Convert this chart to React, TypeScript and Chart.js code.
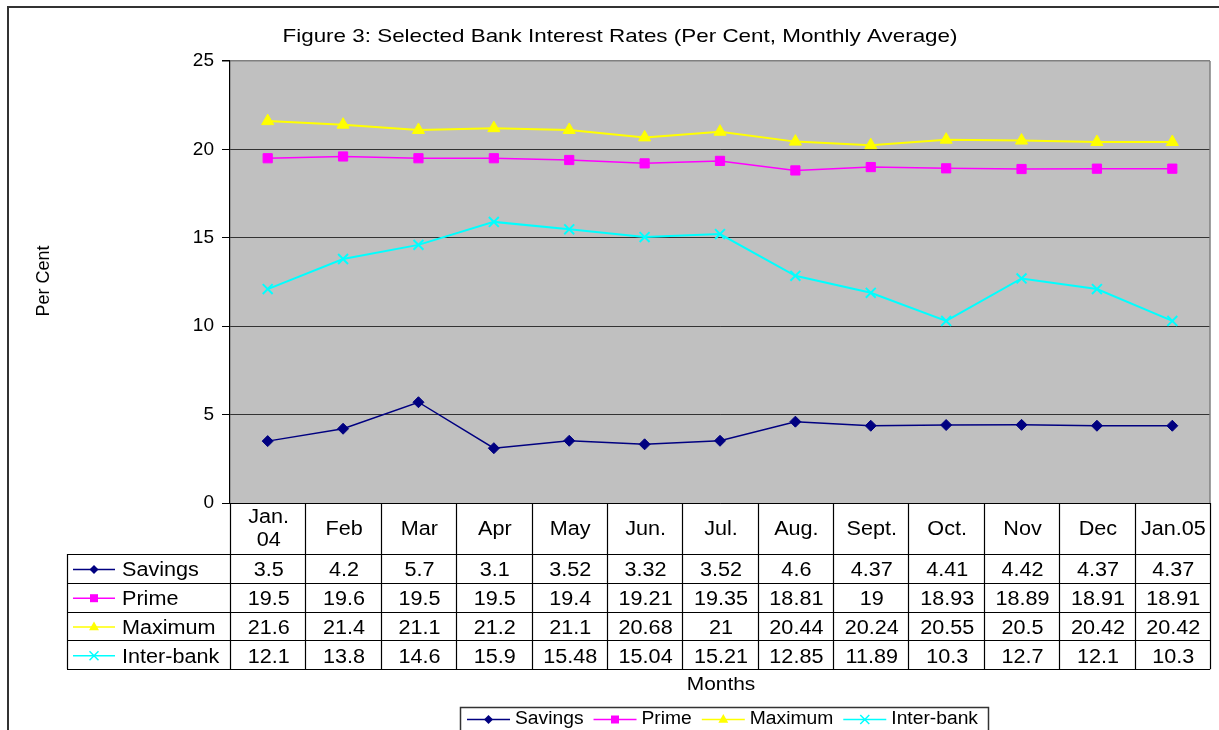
import React, { useEffect, useRef } from "react";
import { Chart, registerables } from "chart.js";
Chart.register(...registerables);

const months = ["Jan.\n04", "Feb", "Mar", "Apr", "May", "Jun.", "Jul.", "Aug.", "Sept.", "Oct.", "Nov", "Dec", "Jan.05"];
const savings = [3.5, 4.2, 5.7, 3.1, 3.52, 3.32, 3.52, 4.6, 4.37, 4.41, 4.42, 4.37, 4.37];
const prime = [19.5, 19.6, 19.5, 19.5, 19.4, 19.21, 19.35, 18.81, 19, 18.93, 18.89, 18.91, 18.91];
const maximum = [21.6, 21.4, 21.1, 21.2, 21.1, 20.68, 21, 20.44, 20.24, 20.55, 20.5, 20.42, 20.42];
const interbank = [12.1, 13.8, 14.6, 15.9, 15.48, 15.04, 15.21, 12.85, 11.89, 10.3, 12.7, 12.1, 10.3];
const seriesNames = ["Savings", "Prime", "Maximum", "Inter-bank"];
const seriesColors = ["#000080", "#FF00FF", "#FFFF00", "#00FFFF"];
const seriesMarkers = ["diamond", "square", "triangle", "cross"];
const yTicks = [0, 5, 10, 15, 20, 25];
const titleText = "Figure 3: Selected Bank Interest Rates (Per Cent, Monthly Average)";
const xTitle = "Months";
const yTitle = "Per Cent";

const FONT = "Arial, 'Liberation Sans', sans-serif";
const SX = 1.1;

function drawText(ctx: CanvasRenderingContext2D, text: string, x: number, y: number, size: number, align: CanvasTextAlign, sx = SX) {
  ctx.save();
  ctx.font = `${size}px ${FONT}`;
  ctx.fillStyle = "#000";
  ctx.textAlign = align;
  ctx.textBaseline = "middle";
  ctx.translate(x, y);
  ctx.scale(sx, 1);
  ctx.fillText(text, 0, 0);
  ctx.restore();
}

function drawMarker(ctx: CanvasRenderingContext2D, kind: string, x: number, y: number, color: string) {
  ctx.save();
  ctx.fillStyle = color;
  ctx.strokeStyle = color;
  ctx.beginPath();
  if (kind === "diamond") {
    const r = 4.5;
    ctx.moveTo(x, y - r); ctx.lineTo(x + r, y); ctx.lineTo(x, y + r); ctx.lineTo(x - r, y); ctx.closePath(); ctx.fill();
  } else if (kind === "square") {
    const r = 4;
    ctx.rect(x - r, y - r, 2 * r, 2 * r); ctx.fill();
  } else if (kind === "triangle") {
    const r = 5.5;
    ctx.moveTo(x, y - r); ctx.lineTo(x + r * 0.9, y + r * 0.6); ctx.lineTo(x - r * 0.9, y + r * 0.6); ctx.closePath(); ctx.fill();
  } else {
    const r = 4.5;
    ctx.lineWidth = 1.5;
    ctx.moveTo(x - r, y - r); ctx.lineTo(x + r, y + r); ctx.moveTo(x + r, y - r); ctx.lineTo(x - r, y + r); ctx.stroke();
  }
  ctx.restore();
}

function drawLegendSymbol(ctx: CanvasRenderingContext2D, i: number, x1: number, x2: number, y: number) {
  ctx.save();
  ctx.strokeStyle = seriesColors[i];
  ctx.lineWidth = 1.5;
  ctx.beginPath(); ctx.moveTo(x1, y); ctx.lineTo(x2, y); ctx.stroke();
  ctx.restore();
  drawMarker(ctx, seriesMarkers[i], (x1 + x2) / 2, y, seriesColors[i]);
}

const decorPlugin = {
  id: "decor",
  beforeDraw(chart: any) {
    const ctx = chart.ctx as CanvasRenderingContext2D;
    const ca = chart.chartArea;
    ctx.save();
    ctx.fillStyle = "#fff";
    ctx.fillRect(0, 0, chart.width, chart.height);
    ctx.fillStyle = "#C0C0C0";
    ctx.fillRect(ca.left, ca.top, ca.right - ca.left, ca.bottom - ca.top);
    ctx.restore();
  },
  afterDraw(chart: any) {
    const ctx = chart.ctx as CanvasRenderingContext2D;
    const ca = chart.chartArea;
    const xs = chart.scales.x;
    const n = months.length;
    const colW = (ca.right - ca.left) / n;

    // plot right border
    ctx.save();
    ctx.strokeStyle = "#808080";
    ctx.lineWidth = 1.5;
    ctx.beginPath(); ctx.moveTo(ca.right, ca.top); ctx.lineTo(ca.right, ca.bottom); ctx.stroke();
    ctx.restore();

    // outer border
    ctx.save();
    ctx.strokeStyle = "#333";
    ctx.lineWidth = 2;
    ctx.beginPath(); ctx.moveTo(8, chart.height + 2); ctx.lineTo(8, 7); ctx.lineTo(chart.width + 2, 7); ctx.stroke();
    ctx.restore();

    // title
    drawText(ctx, titleText, 620, 37, 19, "center", 1.18);

    // y title
    ctx.save();
    ctx.translate(44, 281);
    ctx.rotate(-Math.PI / 2);
    ctx.font = `18px ${FONT}`;
    ctx.fillStyle = "#000";
    ctx.textAlign = "center";
    ctx.textBaseline = "middle";
    ctx.fillText(yTitle, 0, 0);
    ctx.restore();

    // data table
    const headTop = ca.bottom;
    const headBot = 554;
    const rowH = 28.8;
    const tableLeft = 67;
    const tableBot = headBot + rowH * 4;
    ctx.save();
    ctx.strokeStyle = "#000";
    ctx.lineWidth = 1.2;
    ctx.beginPath();
    for (let i = 0; i <= n; i++) {
      const x = Math.round(ca.left + colW * i) + 0.5;
      ctx.moveTo(x, headTop); ctx.lineTo(x, tableBot);
    }
    ctx.moveTo(tableLeft + 0.5, headBot); ctx.lineTo(tableLeft + 0.5, tableBot);
    for (let r = 0; r <= 4; r++) {
      const y = Math.round(headBot + rowH * r) + 0.5;
      ctx.moveTo(tableLeft, y); ctx.lineTo(ca.right, y);
    }
    ctx.stroke();
    ctx.restore();

    const rows = [savings, prime, maximum, interbank];
    for (let i = 0; i < n; i++) {
      const cx = xs.getPixelForValue(i) + 1;
      const lines = months[i].split("\n");
      const mid = (headTop + headBot) / 2 + 0.5;
      lines.forEach((t, k) => {
        drawText(ctx, t, cx, mid + (k - (lines.length - 1) / 2) * 22.5, 20, "center", 1.08);
      });
      rows.forEach((arr, r) => {
        drawText(ctx, String(arr[i]), cx, headBot + rowH * (r + 0.5) + 2.5, 20, "center", 1.08);
      });
    }
    seriesNames.forEach((name, r) => {
      const y = headBot + rowH * (r + 0.5) + 2;
      drawLegendSymbol(ctx, r, 73, 115, y - 1);
      drawText(ctx, name, 122, y + 0.5, 20, "left", 1.08);
    });

    // x title
    drawText(ctx, xTitle, 721, 685, 19, "center", 1.1);

    // legend
    const lgTop = 707;
    const lgY = 719.5;
    const fs = 18;
    const lsx = 1.07;
    ctx.save();
    ctx.font = `${fs}px ${FONT}`;
    const widths = seriesNames.map((s) => ctx.measureText(s).width * lsx);
    ctx.restore();
    const symW = 43, gap1 = 5, gap2 = 10, padL = 7, padR = 10;
    const total = padL + widths.reduce((a, w) => a + symW + gap1 + w, 0) + gap2 * (widths.length - 1) + padR;
    const lgLeft = 460;
    ctx.save();
    ctx.strokeStyle = "#333";
    ctx.lineWidth = 1.5;
    ctx.strokeRect(lgLeft + 0.5, lgTop + 0.5, total, 40);
    ctx.restore();
    let x = lgLeft + padL;
    seriesNames.forEach((name, i) => {
      drawLegendSymbol(ctx, i, x, x + symW, lgY);
      x += symW + gap1;
      drawText(ctx, name, x, lgY, fs, "left", lsx);
      x += widths[i] + gap2;
    });
  },
};

export default function App() {
  const ref = useRef<HTMLCanvasElement | null>(null);
  useEffect(() => {
    if (!ref.current) return;
    const chart = new Chart(ref.current, {
      type: "line",
      data: {
        labels: months,
        datasets: [
          { label: seriesNames[0], data: savings, borderColor: seriesColors[0], backgroundColor: seriesColors[0], pointStyle: "rectRot", pointRadius: 5.5, pointBorderWidth: 1, borderWidth: 1.5, tension: 0 },
          { label: seriesNames[1], data: prime, borderColor: seriesColors[1], backgroundColor: seriesColors[1], pointStyle: "rect", pointRadius: 6.5, pointBorderWidth: 1, borderWidth: 1.5, tension: 0 },
          { label: seriesNames[2], data: maximum, borderColor: seriesColors[2], backgroundColor: seriesColors[2], pointStyle: "triangle", pointRadius: 7, pointBorderWidth: 1, borderWidth: 2, tension: 0 },
          { label: seriesNames[3], data: interbank, borderColor: seriesColors[3], backgroundColor: seriesColors[3], pointStyle: "crossRot", pointRadius: 7, pointBorderWidth: 2, borderWidth: 2, tension: 0 },
        ],
      },
      options: {
        responsive: false,
        animation: false,
        events: [],
        layout: { padding: { left: 0, right: 7, top: 61, bottom: 227 } },
        plugins: { legend: { display: false }, title: { display: false }, tooltip: { enabled: false } },
        scales: {
          x: { type: "category", display: false, offset: true },
          y: {
            min: 0,
            max: 25,
            afterFit: (s: any) => { s.width = 230; },
            afterBuildTicks: (s: any) => { s.ticks = yTicks.map((v) => ({ value: v })); },
            ticks: { color: "#000", font: { size: 19, family: FONT }, padding: 8 },
            grid: {
              color: (c: any) => (c.tick && c.tick.value === 25 ? "#808080" : c.tick && c.tick.value === 0 ? "#000" : "#333"),
              tickColor: "#000",
              tickLength: 8,
              lineWidth: (c: any) => (c.tick && c.tick.value === 25 ? 1.5 : 1),
            },
            border: { display: true, color: "#000", width: 1.2 },
          },
        },
      },
      plugins: [decorPlugin],
    } as any);
    return () => chart.destroy();
  }, []);
  return (
    <div style={{ position: "absolute", left: 0, top: 0 }}>
      <canvas ref={ref} width={1219} height={730} style={{ display: "block" }} />
    </div>
  );
}
